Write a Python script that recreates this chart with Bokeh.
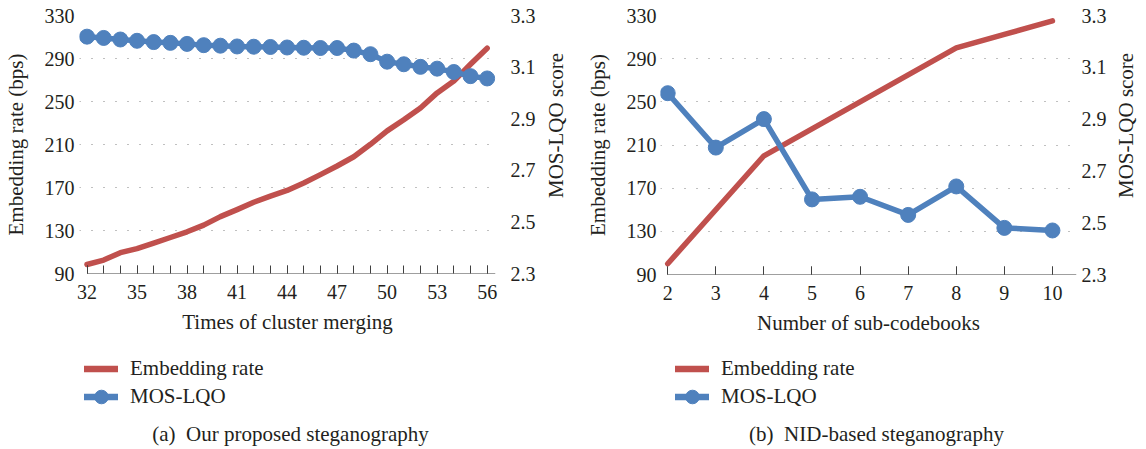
import math
from bokeh.plotting import figure
from bokeh.models import (Range1d, LinearAxis, FixedTicker, Legend, LegendItem, Label)
from bokeh.layouts import row, column
from bokeh.embed import file_html
from bokeh.resources import INLINE

# ---- data ----
merge_times = list(range(32, 57))
embed_rate_a = [98.4, 102.5, 109.4, 113.2, 118.2, 123.5, 128.8, 135.0, 142.9, 149.4,
                156.3, 162.0, 167.3, 174.2, 182.0, 190.0, 198.6, 210.2, 222.7, 233.0,
                244.0, 258.0, 269.0, 284.6, 299.6]
mos_a = [3.218, 3.213, 3.207, 3.202, 3.197, 3.194, 3.190, 3.185, 3.183, 3.180,
         3.179, 3.178, 3.176, 3.175, 3.174, 3.174, 3.164, 3.150, 3.121, 3.111,
         3.101, 3.094, 3.081, 3.065, 3.056]

sub_codebooks = [2, 3, 4, 5, 6, 7, 8, 9, 10]
embed_rate_b = [100, 150, 200, 225, 250, 275, 300, 312.5, 325]
mos_b = [3.00, 2.79, 2.90, 2.59, 2.60, 2.53, 2.64, 2.48, 2.47]

left_ticks = [90, 130, 170, 210, 250, 290, 330]
right_ticks = [2.3, 2.5, 2.7, 2.9, 3.1, 3.3]
xticks_a = [32, 35, 38, 41, 44, 47, 50, 53, 56]
xticks_b = [2, 3, 4, 5, 6, 7, 8, 9, 10]

RED = "#C0504D"
BLUE = "#4F81BD"
AX = "#404040"
FONT = "Liberation Serif"
TXT = "#231f20"
FS_TICK = "20px"
FS = "21px"
TOP_H = 345
BOT_H = 104


def panel(x, rate, mos, xr, major, minor, xlabel, fw, fh, bl, br, lstand, rstand):
    p = figure(frame_width=fw, frame_height=fh, min_border_left=bl, min_border_right=br,
               min_border_top=15, min_border_bottom=TOP_H - 15 - fh,
               x_range=Range1d(*xr), y_range=Range1d(left_ticks[0], left_ticks[-1]),
               output_backend="svg", toolbar_location=None, tools="")
    p.extra_y_ranges = {"mos": Range1d(right_ticks[0], right_ticks[-1])}
    p.outline_line_color = None
    p.xgrid.visible = False
    p.ygrid.ticker = FixedTicker(ticks=left_ticks[1:])
    p.ygrid.grid_line_color = "#808080"
    p.ygrid.grid_line_dash = "1 11"
    p.ygrid.grid_line_width = 1

    # x axis (baseline drawn from the first category to the range end)
    xa = p.xaxis[0]
    xa.ticker = FixedTicker(ticks=major, minor_ticks=minor)
    xa.axis_line_color = None
    xa.major_tick_line_color = AX
    xa.minor_tick_line_color = AX
    xa.major_tick_in = 8
    xa.major_tick_out = 0
    xa.minor_tick_in = 8
    xa.minor_tick_out = 0
    xa.major_label_standoff = 11
    xa.axis_label = xlabel
    xa.axis_label_standoff = 8
    p.segment(x0=[x[0]], y0=[left_ticks[0]], x1=[xr[1]], y1=[left_ticks[0]],
              line_color=AX, line_width=1.2)

    # left y axis
    ya = p.yaxis[0]
    ya.ticker = FixedTicker(ticks=left_ticks)
    ya.axis_line_color = None
    ya.major_tick_line_color = None
    ya.minor_tick_line_color = None
    ya.major_tick_out = 0
    ya.major_tick_in = 0
    ya.major_label_standoff = lstand
    ya.axis_label = "Embedding rate (bps)"
    ya.axis_label_standoff = 14

    # right y axis (its title is drawn in a narrow strip next to it)
    ra = LinearAxis(y_range_name="mos", ticker=FixedTicker(ticks=right_ticks))
    ra.axis_line_color = None
    ra.major_tick_line_color = None
    ra.minor_tick_line_color = None
    ra.major_tick_out = 0
    ra.major_tick_in = 0
    ra.major_label_standoff = rstand
    p.add_layout(ra, "right")

    for ax in (xa, ya, ra):
        ax.major_label_text_font = FONT
        ax.major_label_text_font_size = FS_TICK
        ax.major_label_text_color = TXT
        ax.axis_label_text_font = FONT
        ax.axis_label_text_font_size = FS
        ax.axis_label_text_font_style = "normal"
        ax.axis_label_text_color = TXT

    p.line(x, rate, line_color=RED, line_width=5.5, line_cap="round", line_join="round")
    p.line(x, mos, y_range_name="mos", line_color=BLUE, line_width=5.5, line_join="round")
    p.scatter(x, mos, y_range_name="mos", marker="circle", size=15,
              fill_color=BLUE, line_color=BLUE)
    return p


def title_strip(width, cx, text):
    s = figure(width=width, height=TOP_H, x_range=Range1d(0, width), y_range=Range1d(0, TOP_H),
               min_border=0, x_axis_type=None, y_axis_type=None,
               output_backend="svg", toolbar_location=None, tools="")
    s.outline_line_color = None
    s.grid.visible = False
    s.add_layout(Label(x=cx, y=TOP_H - 147, text=text, angle=math.pi / 2,
                       text_font=FONT, text_font_size=FS, text_color=TXT,
                       text_align="center", text_baseline="middle"))
    return s


def make_legend(item, lx, ly):
    return Legend(items=[item], location=(lx, ly), orientation="vertical",
                  background_fill_alpha=0, border_line_color=None,
                  padding=0, margin=0, spacing=0, glyph_width=34, glyph_height=35,
                  label_standoff=12, label_text_font=FONT, label_text_font_size=FS,
                  label_text_color=TXT, label_height=20)


def bottom(width, x, rate, mos, legend_x, cap_x, caption):
    b = figure(width=width, height=BOT_H, x_range=Range1d(0, width), y_range=Range1d(0, BOT_H),
               min_border=0, x_axis_type=None, y_axis_type=None,
               output_backend="svg", toolbar_location=None, tools="")
    b.outline_line_color = None
    b.grid.visible = False
    # series re-drawn on a range where they fall outside the view: only the legend shows them
    b.extra_y_ranges = {"off": Range1d(-2000, -1000)}
    r_red = b.line(x, rate, y_range_name="off", line_color=RED, line_width=6.5, line_cap="round")
    r_bl = b.line(x, mos, y_range_name="off", line_color=BLUE, line_width=6.5, line_cap="round")
    r_bs = b.scatter(x, mos, y_range_name="off", marker="circle", size=15,
                     fill_color=BLUE, line_color=BLUE)
    b.add_layout(make_legend(LegendItem(label="Embedding rate", renderers=[r_red]),
                             legend_x, 63), "center")
    b.add_layout(make_legend(LegendItem(label="MOS-LQO", renderers=[r_bl, r_bs]),
                             legend_x, 35), "center")
    b.add_layout(Label(x=cap_x, y=16, text=caption,
                       text_font=FONT, text_font_size=FS, text_color=TXT,
                       text_align="center", text_baseline="middle"))
    return b


pa = panel(merge_times, embed_rate_a, mos_a, (31.55, 56.5), xticks_a, merge_times,
           "Times of cluster merging", 416, 258, 77, 47, 5, 15)
sa = title_strip(40, 13, "MOS-LQO score")
pb = panel(sub_codebooks, embed_rate_b, mos_b, (1.85, 10.5), xticks_b, sub_codebooks,
           "Number of sub-codebooks", 416, 259, 77, 36, 4, 5)
sb = title_strip(37, 13, "MOS-LQO score")
ba = bottom(580, merge_times, embed_rate_a, mos_a, 84, 290, "(a)\u00a0 Our proposed steganography")
bb = bottom(566, sub_codebooks, embed_rate_b, mos_b, 95, 296, "(b)\u00a0 NID-based steganography")

layout = column(row(pa, sa, pb, sb), row(ba, bb))
open("out.html", "w").write(file_html(layout, INLINE))
